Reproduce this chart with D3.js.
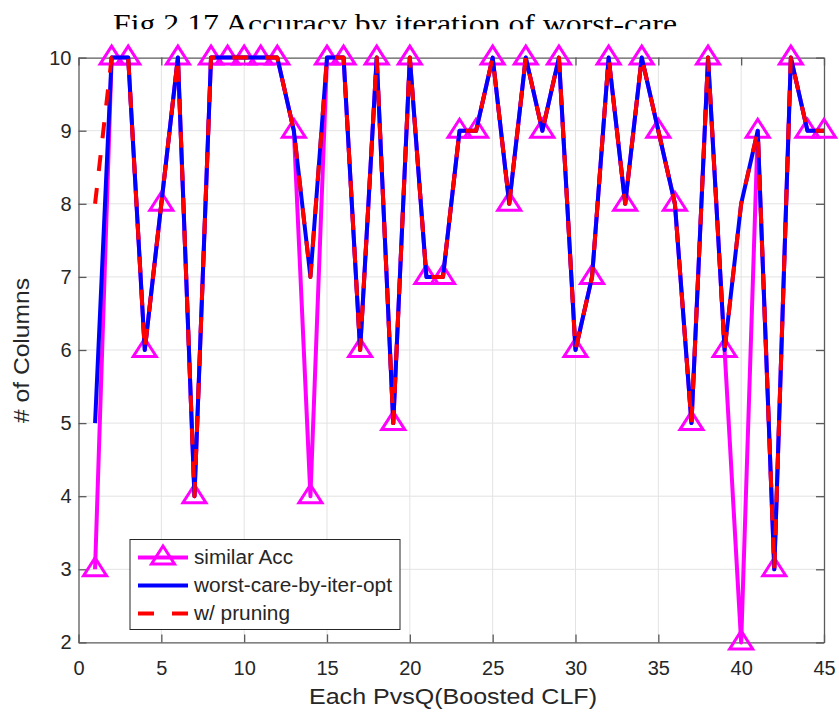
<!DOCTYPE html>
<html><head><meta charset="utf-8">
<script src="https://cdn.jsdelivr.net/npm/d3@7"></script>
<style>body{margin:0;background:#fff}svg{display:block}</style>
</head><body>
<svg id="c" width="839" height="713"></svg>
<script>
// ---- data ----
const iterations = [1,2,3,4,5,6,7,8,9,10,11,12,13,14,15,16,17,18,19,20,21,22,23,24,25,26,27,28,29,30,31,32,33,34,35,36,37,38,39,40,41,42,43,44,45];
const similarAcc = [3,10,10,6,8,10,4,10,10,10,10,10,9,4,10,10,6,10,5,10,7,7,9,9,10,8,10,9,10,6,7,10,8,10,9,8,5,10,6,2,9,3,10,9,9];
const worstCareByIterOpt = [5,10,10,6,8,10,4,10,10,10,10,10,9,7,10,10,6,10,5,10,7,7,9,9,10,8,10,9,10,6,7,10,8,10,9,8,5,10,6,8,9,3,10,9,9];
const withPruning = [8,10,10,6,8,10,4,10,10,10,10,10,9,7,10,10,6,10,5,10,7,7,9,9,10,8,10,9,10,6,7,10,8,10,9,8,5,10,6,8,9,3,10,9,9];
const xTicks = [0,5,10,15,20,25,30,35,40,45];
const yTicks = [2,3,4,5,6,7,8,9,10];
const seriesNames = ["similar Acc","worst-care-by-iter-opt","w/ pruning"];
const titleText = "Fig 2.17 Accuracy by iteration of worst-care";
const xLabel = "Each PvsQ(Boosted CLF)";
const yLabel = "# of Columns";

// ---- layout ----
const L = 78.5, R = 824, T = 57.6, B = 642.4;
const svg = d3.select("#c");
const x = d3.scaleLinear().domain([0,45]).range([L,R]);
const y = d3.scaleLinear().domain([2,10]).range([B,T]);
const txt = "#262626";
const font = "'Liberation Sans', Arial, Helvetica, sans-serif";

// title (clipped at bottom as in the reference)
svg.append("defs").append("clipPath").attr("id","tclip")
  .append("rect").attr("x",0).attr("y",0).attr("width",839).attr("height",29.3);
svg.append("text").attr("clip-path","url(#tclip)")
  .attr("x",(113+677)/2).attr("y",32.5).attr("text-anchor","middle")
  .attr("font-family","'Liberation Serif', 'Times New Roman', serif")
  .attr("font-size",27).attr("fill","#000")
  .attr("textLength",564).attr("lengthAdjust","spacingAndGlyphs")
  .text(titleText);

// grid
const g = svg.append("g");
g.selectAll(".gx").data(xTicks.slice(1,-1)).join("line")
  .attr("x1",d=>x(d)).attr("x2",d=>x(d)).attr("y1",T).attr("y2",B)
  .attr("stroke","#e3e3e3").attr("stroke-width",1);
g.selectAll(".gy").data(yTicks.slice(1,-1)).join("line")
  .attr("y1",d=>y(d)).attr("y2",d=>y(d)).attr("x1",L).attr("x2",R)
  .attr("stroke","#e3e3e3").attr("stroke-width",1);

// axes via d3 axis
const tickLen = 8;
const xAxisB = d3.axisBottom(x).tickValues(xTicks).tickSizeInner(-tickLen).tickSizeOuter(0).tickPadding(18);
const xAxisT = d3.axisTop(x).tickValues(xTicks).tickSizeInner(-tickLen).tickSizeOuter(0).tickFormat("");
const yAxisL = d3.axisLeft(y).tickValues(yTicks).tickSizeInner(-tickLen).tickSizeOuter(0).tickPadding(7);
const yAxisR = d3.axisRight(y).tickValues(yTicks).tickSizeInner(-tickLen).tickSizeOuter(0).tickFormat("");
function styleAx(sel){
  sel.selectAll("path").attr("stroke","#5a5a5a").attr("stroke-width",1.3);
  sel.selectAll("line").attr("stroke","#5a5a5a").attr("stroke-width",1.3);
  sel.selectAll("text").attr("fill",txt).attr("font-family",font).attr("font-size",20);
}
svg.append("g").attr("transform",`translate(0,${B})`).call(xAxisB).call(styleAx);
svg.append("g").attr("transform",`translate(0,${T})`).call(xAxisT).call(styleAx);
svg.append("g").attr("transform",`translate(${L},0)`).call(yAxisL).call(styleAx);
svg.append("g").attr("transform",`translate(${R},0)`).call(yAxisR).call(styleAx);

// axis labels
svg.append("text").attr("x",453).attr("y",704).attr("text-anchor","middle")
  .attr("font-family",font).attr("font-size",22).attr("fill",txt)
  .attr("textLength",288).attr("lengthAdjust","spacingAndGlyphs").text(xLabel);
svg.append("text").attr("transform","translate(29,350.5) rotate(-90)").attr("text-anchor","middle")
  .attr("font-family",font).attr("font-size",22).attr("fill",txt)
  .attr("textLength",145).attr("lengthAdjust","spacingAndGlyphs").text(yLabel);

// series
const line = d3.line().x(d=>x(d[0])).y(d=>y(d[1])).curve(d3.curveLinear);
const zip = arr => iterations.map((it,i)=>[it,arr[i]]);
const tri = "M0,-11.5L11.5,6.5L-11.5,6.5Z";

svg.append("path").datum(zip(similarAcc)).attr("d",line)
  .attr("fill","none").attr("stroke","#ff00ff").attr("stroke-width",4).attr("stroke-linejoin","round");
svg.append("g").selectAll("path").data(zip(similarAcc)).join("path")
  .attr("d",tri).attr("transform",d=>`translate(${x(d[0])},${y(d[1])})`)
  .attr("fill","none").attr("stroke","#ff00ff").attr("stroke-width",3).attr("stroke-linejoin","miter");
svg.append("path").datum(zip(worstCareByIterOpt)).attr("d",line)
  .attr("fill","none").attr("stroke","#0000ff").attr("stroke-width",4).attr("stroke-linejoin","round");
svg.append("path").datum(zip(withPruning)).attr("d",line)
  .attr("fill","none").attr("stroke","#ff0000").attr("stroke-width",4)
  .attr("stroke-dasharray","16,17").attr("stroke-linejoin","round");

// legend
const lg = svg.append("g");
lg.append("rect").attr("x",130).attr("y",539.5).attr("width",270).attr("height",90)
  .attr("fill","#fff").attr("stroke","#262626").attr("stroke-width",1);
const rows = [557.5,585.5,613.5];
const lx1 = 138, lx2 = 188;
lg.append("line").attr("x1",lx1).attr("x2",lx2).attr("y1",rows[0]).attr("y2",rows[0])
  .attr("stroke","#ff00ff").attr("stroke-width",4);
lg.append("path").attr("d",tri).attr("transform",`translate(${(lx1+lx2)/2},${rows[0]})`)
  .attr("fill","none").attr("stroke","#ff00ff").attr("stroke-width",3);
lg.append("line").attr("x1",lx1).attr("x2",lx2).attr("y1",rows[1]).attr("y2",rows[1])
  .attr("stroke","#0000ff").attr("stroke-width",4);
lg.append("line").attr("x1",lx1).attr("x2",lx2).attr("y1",rows[2]).attr("y2",rows[2])
  .attr("stroke","#ff0000").attr("stroke-width",4).attr("stroke-dasharray","16,18");
const legendLens = [99,198,96];
lg.selectAll("text").data(seriesNames).join("text")
  .attr("x",194).attr("y",(d,i)=>rows[i]).attr("dy","0.35em")
  .attr("font-family",font).attr("font-size",19.5).attr("fill",txt)
  .attr("textLength",(d,i)=>legendLens[i]).attr("lengthAdjust","spacingAndGlyphs").text(d=>d);
</script>
</body></html>
